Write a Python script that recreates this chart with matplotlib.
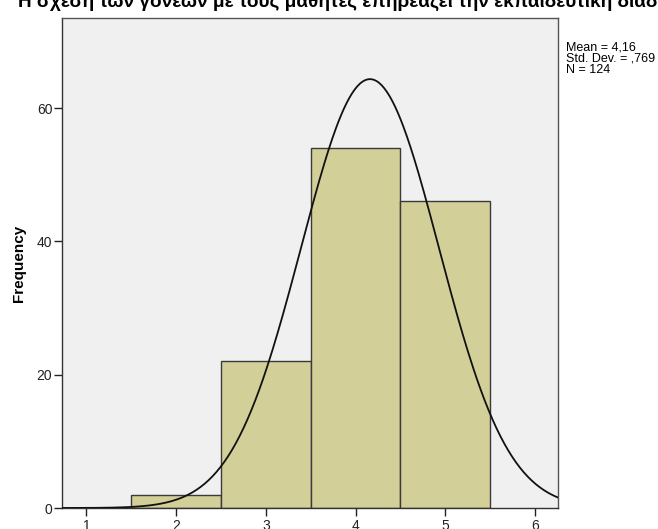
import numpy as np
import matplotlib.pyplot as plt

plt.rcParams['font.family'] = ['Liberation Sans', 'DejaVu Sans']

# histogram bins (centres) and counts
scores = [2, 3, 4, 5]
counts = [2, 22, 54, 46]
mean, sd, n = 4.16, 0.769, 124
title = "Η σχέση των γονέων με τους μαθητές επηρεάζει την εκπαιδευτική διαδικασία"
xticks = [1, 2, 3, 4, 5, 6]
yticks = [0, 20, 40, 60]

fig = plt.figure(figsize=(6.58, 5.29), dpi=100)
ax = fig.add_axes([62/658, 21/529, 496/658, 490/529])
ax.set_facecolor("#f0f0f0")

ax.bar(scores, counts, width=1.0, color="#d3cf98", edgecolor="#3a3a3a", linewidth=1.0, zorder=2)

# normal curve scaled to the counts (bin width 1)
xs = np.linspace(0.6, 6.4, 400)
ys = n / (sd * np.sqrt(2 * np.pi)) * np.exp(-0.5 * ((xs - mean) / sd) ** 2)
ax.plot(xs, ys, color="#111111", linewidth=1.3, zorder=3)

ax.set_xlim(0.727, 6.256)
ax.set_ylim(0, 73.5)
ax.set_xticks(xticks)
ax.set_yticks(yticks)
ax.tick_params(direction="out", length=6, width=1, colors="#222222", labelsize=10, labelcolor="#222222")
ax.tick_params(axis="y", pad=1)
ax.tick_params(axis="x", pad=2)
for s in ax.spines.values():
    s.set_color("#555555")
    s.set_linewidth(1.0)
ax.spines["left"].set_color("#333333")
ax.spines["bottom"].set_color("#333333")

ax.set_ylabel("Frequency", fontsize=11, fontweight="bold", labelpad=8)

fig.text(18/658, 1 - 7/529, title, fontsize=13.7, fontweight="bold", ha="left", va="baseline")

fig.text(566/658, 1 - 41/529, "Mean = 4,16\nStd. Dev. = ,769\nN = 124",
         fontsize=9, ha="left", va="top", linespacing=0.92)

fig.savefig("out.png", dpi=100)
